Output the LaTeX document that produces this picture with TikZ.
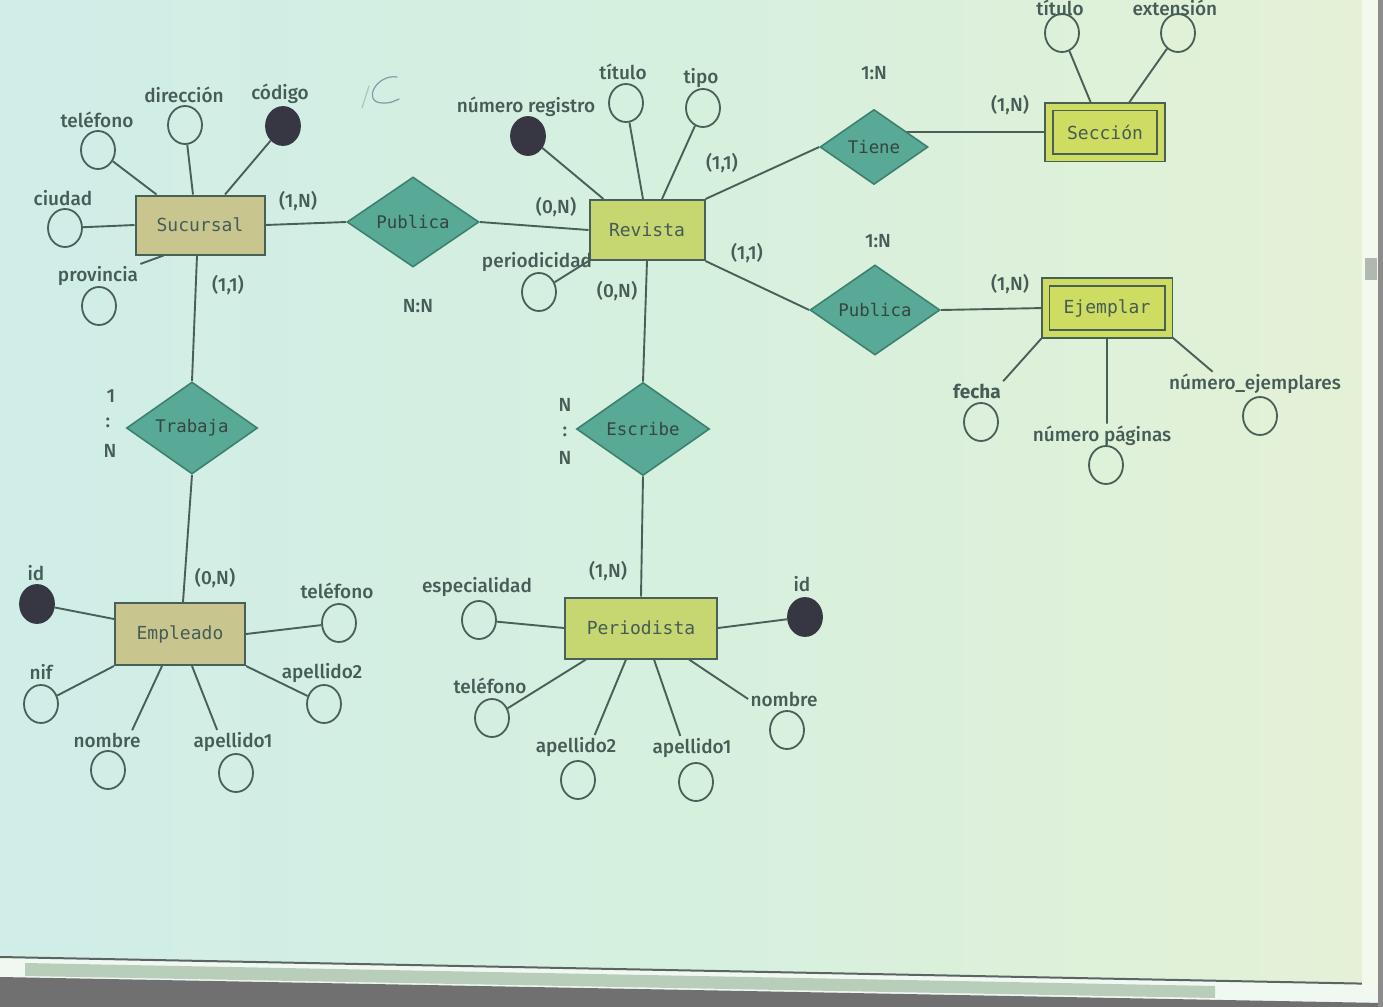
\documentclass[tikz,border=0pt]{standalone}
\usepackage{fontspec}
\setmainfont{Fira Sans}[UprightFont={* Medium}, BoldFont={* Bold}]
\newfontfamily\monof{DejaVu Sans Mono}
\usetikzlibrary{shapes.geometric,calc}
\definecolor{bgL}{RGB}{208,237,232}
\definecolor{bgM}{RGB}{214,240,222}
\definecolor{bgR}{RGB}{228,241,214}
\definecolor{lnc}{RGB}{72,96,88}
\definecolor{txc}{RGB}{70,92,86}
\definecolor{dia}{RGB}{88,170,150}
\definecolor{diab}{RGB}{62,128,112}
\definecolor{entT}{RGB}{200,198,142}
\definecolor{entG}{RGB}{198,214,112}
\definecolor{entW}{RGB}{206,220,98}
\definecolor{keyc}{RGB}{55,55,68}
\definecolor{penc}{RGB}{130,155,165}
\definecolor{thumbc}{RGB}{184,206,186}
\definecolor{darkbar}{RGB}{112,112,112}
\definecolor{barline}{RGB}{90,100,96}
\definecolor{vthumb}{RGB}{176,184,178}
\definecolor{edgec}{RGB}{140,140,140}
\pgfdeclarelayer{back}
\pgfdeclarelayer{bg}
\pgfsetlayers{back,bg,main}
\tikzset{
  ent/.style={draw=lnc, line width=1pt, fill=entG, font=\monof\fontsize{9}{10}\selectfont, text=txc, inner sep=0pt},
  went/.style={ent, fill=entW, double=entW, double distance=3pt, line width=0.9pt},
  rel/.style={diamond, draw=diab, fill=dia, line width=0.8pt, inner sep=0pt, font=\monof\fontsize{8.7}{10}\selectfont, text=txc!75!black},
  att/.style={ellipse, draw=lnc, line width=0.9pt, minimum width=17pt, minimum height=19pt, inner sep=0pt},
  key/.style={att, fill=keyc, draw=keyc},
  lbl/.style={font=\fontsize{9.5}{11}\selectfont, text=txc, inner sep=1pt},
  conn/.style={draw=lnc, line width=0.95pt},
  pen/.style={draw=penc, line width=0.6pt, line cap=round}
}
\begin{document}
\begin{tikzpicture}[x=0.5pt,y=-0.5pt]
\useasboundingbox (0,0) rectangle (1383,1007);
\clip (0,0) rectangle (1383,1007);
\begin{pgfonlayer}{back}
  \shade[left color=bgL, right color=bgR, middle color=bgM] (0,0) rectangle (1383,1007);
  % bottom window bars
  \fill[white!60!bgM] (0,957) -- (1383,984) -- (1383,1007) -- (0,1007) -- cycle;
  \fill[thumbc] (25,963) -- (1215,986) -- (1215,998) -- (25,976) -- cycle;
  \fill[darkbar] (0,977) -- (1383,1003) -- (1383,1007) -- (0,1007) -- cycle;
  \draw[barline, line width=1pt] (0,957) -- (1383,984);
  % right scrollbar
  \fill[white!55!bgR] (1362,0) rectangle (1378,990);
  \fill[vthumb] (1365,258) rectangle (1377,280);
  \fill[edgec] (1378,0) rectangle (1383,1007);
\end{pgfonlayer}

% entities
\node[ent, fill=entT, minimum width=64.5pt, minimum height=29.5pt] (Sucursal) at (200,225) {Sucursal};
\node[ent, minimum width=57.5pt, minimum height=30pt] (Revista) at (647,230) {Revista};
\node[went, minimum width=56pt, minimum height=25.5pt] (Seccion) at (1105,132) {Sección};
\node[went, minimum width=61.5pt, minimum height=26pt] (Ejemplar) at (1107,308) {Ejemplar};
\node[ent, minimum width=76pt, minimum height=30.5pt] (Periodista) at (641,628) {Periodista};
\node[ent, fill=entT, minimum width=65pt, minimum height=31pt] (Empleado) at (180,634) {Empleado};

% relationships
\node[rel, minimum width=66pt, minimum height=45pt] (PubA) at (413,222) {Publica};
\node[rel, minimum width=54pt, minimum height=37.5pt] (Tiene) at (874,147) {Tiene};
\node[rel, minimum width=65pt, minimum height=45pt] (PubB) at (875,310) {Publica};
\node[rel, minimum width=66.5pt, minimum height=46.5pt] (Escribe) at (643,429) {Escribe};
\node[rel, minimum width=65.5pt, minimum height=46pt] (Trabaja) at (192,428) {Trabaja};

% attributes: Sucursal
\node[att] (sTel) at (98,150) {};  \node[lbl] (lSTel) at (97,120) {teléfono};
\node[att] (sDir) at (185,125) {}; \node[lbl] (lSDir) at (184,95) {dirección};
\node[key] (sCod) at (283,126) {}; \node[lbl] (lSCod) at (280,94) {código};
\node[att] (sCiu) at (65,228) {};  \node[lbl] (lSCiu) at (63,198) {ciudad};
\node[att] (sProv) at (99,306) {}; \node[lbl] (lProv) at (98,276) {provincia};
% Revista
\node[key] (rNum) at (528,136) {}; \node[lbl] (lRNum) at (526,107) {número registro};
\node[att] (rTit) at (626,103) {}; \node[lbl] (lRTit) at (623,72) {título};
\node[att] (rTipo) at (703,108) {}; \node[lbl] (lRTipo) at (701,78) {tipo};
\node[att] (rPer) at (539,292) {}; \node[lbl] (lRPer) at (537,262) {periodicidad};
% Seccion
\node[att] (cTit) at (1062,33) {}; \node[lbl] (lCTit) at (1060,8) {título};
\node[att] (cExt) at (1178,33) {}; \node[lbl] (lCExt) at (1175,8) {extensión};
% Ejemplar
\node[att] (eFec) at (981,422) {}; \node[lbl, font=\bfseries\fontsize{9.5}{11}\selectfont] (lFec) at (977,391) {fecha};
\node[att] (ePag) at (1106,465) {}; \node[lbl] (lPag) at (1102,436) {número páginas};
\node[att] (eEj) at (1260,416) {}; \node[lbl] (lEj) at (1255,384) {número\_ejemplares};
% Periodista
\node[att] (pEsp) at (479,620) {}; \node[lbl] (lPEsp) at (477,587) {especialidad};
\node[key] (pId) at (805,617) {};  \node[lbl] (lPId) at (802,584) {id};
\node[att] (pTel) at (492,718) {}; \node[lbl] (lPTel) at (490,686) {teléfono};
\node[att] (pAp2) at (578,780) {}; \node[lbl] (lPAp2) at (576,747) {apellido2};
\node[att] (pAp1) at (696,782) {}; \node[lbl] (lPAp1) at (692,748) {apellido1};
\node[att] (pNom) at (787,730) {}; \node[lbl] (lPNom) at (784,699) {nombre};
% Empleado
\node[key] (mId) at (37,604) {};  \node[lbl] (lMId) at (36,573) {id};
\node[att] (mTel) at (339,623) {}; \node[lbl] (lMTel) at (337,591) {teléfono};
\node[att] (mNif) at (41,704) {};  \node[lbl] (lMNif) at (41,672) {nif};
\node[att] (mNom) at (108,770) {}; \node[lbl] (lMNom) at (107,740) {nombre};
\node[att] (mAp1) at (236,773) {}; \node[lbl] (lMAp1) at (233,742) {apellido1};
\node[att] (mAp2) at (324,704) {}; \node[lbl] (lMAp2) at (322,673) {apellido2};

% cardinalities
\node[lbl] (k1) at (298,201) {(1,N)};
\node[lbl] (k2) at (418,306) {N:N};
\node[lbl] (k3) at (556,207) {(0,N)};
\node[lbl] (k4) at (722,163) {(1,1)};
\node[lbl] (k5) at (874,73) {1:N};
\node[lbl] (k6) at (1010,105) {(1,N)};
\node[lbl] (k7) at (747,253) {(1,1)};
\node[lbl] (k8) at (878,241) {1:N};
\node[lbl] (k9) at (1010,284) {(1,N)};
\node[lbl] (k10) at (617,291) {(0,N)};
\node[lbl] (k11) at (608,571) {(1,N)};
\node[lbl] (k12) at (228,285) {(1,1)};
\node[lbl] (k13) at (215,578) {(0,N)};
\node[lbl] (v1) at (565,405) {N};
\node[lbl] (v2) at (565,432) {:};
\node[lbl] (v3) at (565,458) {N};
\node[lbl] (w1) at (111,396) {1};
\node[lbl] (w2) at (108,423) {:};
\node[lbl] (w3) at (110,451) {N};

% connectors
\begin{pgfonlayer}{bg}
\path[conn]
  (sTel) -- ([xshift=11pt]Sucursal.north west)
  (sDir) -- ([xshift=-3.5pt]Sucursal.north)
  (sCod) -- ([xshift=12.5pt]Sucursal.north)
  (sCiu) -- (Sucursal.west)
  ([xshift=14.5pt]Sucursal.south west) -- (lProv.north east)
  (Sucursal.east) -- (PubA.west)
  ([xshift=-1.5pt]Sucursal.south) -- (Trabaja.north)
  (Trabaja.south) -- ([xshift=1.5pt]Empleado.north)
  (PubA.east) -- (Revista.west)
  (rNum) -- ([xshift=7.5pt]Revista.north west)
  (rTit) -- ([xshift=-2pt]Revista.north)
  (rTipo) -- ([xshift=7.5pt]Revista.north)
  (Revista.south west) -- (rPer)
  (Revista.north east) -- (Tiene.west)
  (Seccion.west) -- (Seccion.west -| Tiene.center)
  (cTit) -- ([xshift=-6.5pt]Seccion.north)
  (cExt) -- ([xshift=11pt]Seccion.north)
  (Revista.south east) -- (PubB.west)
  (PubB.east) -- (Ejemplar.west)
  (Ejemplar.south west) -- (lFec.north east)
  (Ejemplar.south) -- (Ejemplar.south |- lPag.north)
  (Ejemplar.south east) -- ($(lEj.north west)!0.26!(lEj.north east)$)
  (Revista.south) -- (Escribe.north)
  (Escribe.south) -- (Periodista.north)
  (pEsp) -- (Periodista.west)
  (Periodista.east) -- (pId)
  ([xshift=11pt]Periodista.south west) -- (pTel)
  ([xshift=31pt]Periodista.south west) -- ($(lPAp2.north west)!0.72!(lPAp2.north east)$)
  ([xshift=45pt]Periodista.south west) -- ($(lPAp1.north west)!0.36!(lPAp1.north east)$)
  ([xshift=62.5pt]Periodista.south west) -- (lPNom.west)
  (mId) -- ([yshift=-8.5pt]Empleado.north west)
  (Empleado.east) -- (mTel)
  (Empleado.south west) -- (mNif)
  ([xshift=24pt]Empleado.south west) -- ($(lMNom.north west)!0.85!(lMNom.north east)$)
  ([xshift=39pt]Empleado.south west) -- ($(lMAp1.north west)!0.31!(lMAp1.north east)$)
  (Empleado.south east) -- (mAp2);
% handwritten mark
\draw[pen] (397,77) .. controls (376,74) and (362,102) .. (382,103) .. controls (390,103) .. (399,99);
\draw[pen, draw=penc!50!bgM] (362,108) -- (369,86);
\end{pgfonlayer}
\end{tikzpicture}
\end{document}
